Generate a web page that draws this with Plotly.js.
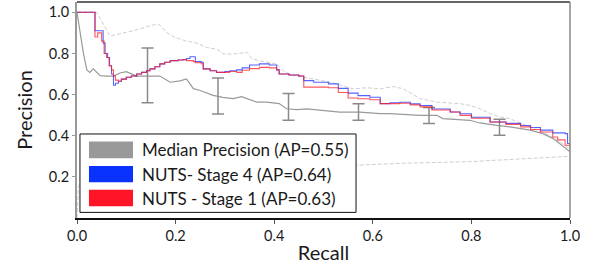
<!DOCTYPE html>
<html>
<head>
<meta charset="utf-8">
<script src="https://cdn.plot.ly/plotly-3.0.1.min.js"></script>
<style>html,body{margin:0;padding:0;background:#fff;}#chart{width:594px;height:267px;}</style>
</head>
<body>
<div id="chart"></div>
<script>
// Median precision (solid gray)
const medX = [0, 0.006, 0.013, 0.02, 0.026, 0.033, 0.04, 0.047, 0.06, 0.074, 0.087, 0.10, 0.121, 0.134, 0.148, 0.168, 0.189, 0.209, 0.222, 0.236, 0.25, 0.276, 0.296, 0.317, 0.334, 0.345, 0.365, 0.385, 0.41, 0.425, 0.446, 0.466, 0.493, 0.533, 0.574, 0.615, 0.635, 0.696, 0.73, 0.742, 0.797, 0.817, 0.852, 0.878, 0.919, 0.945, 0.966, 0.986, 1.0];
const medY = [1.0, 0.90, 0.80, 0.72, 0.708, 0.725, 0.71, 0.692, 0.69, 0.69, 0.705, 0.711, 0.69, 0.69, 0.69, 0.69, 0.66, 0.667, 0.676, 0.629, 0.62, 0.596, 0.586, 0.58, 0.59, 0.58, 0.563, 0.563, 0.556, 0.531, 0.527, 0.53, 0.523, 0.515, 0.515, 0.507, 0.507, 0.499, 0.499, 0.483, 0.475, 0.462, 0.45, 0.443, 0.427, 0.41, 0.386, 0.346, 0.322];

// Upper band (dashed light gray)
const upX = [0, 0.04, 0.067, 0.114, 0.155, 0.168, 0.182, 0.2, 0.222, 0.24, 0.263, 0.284, 0.297, 0.317, 0.345, 0.355, 0.385, 0.405, 0.418, 0.438, 0.479, 0.52, 0.56, 0.588, 0.615, 0.642, 0.662, 0.696, 0.73, 0.777, 0.797, 0.817, 0.838, 0.858, 0.878, 0.919, 0.959, 0.994, 1.0];
const upY = [1.0, 1.0, 0.885, 0.91, 0.939, 0.939, 0.90, 0.877, 0.86, 0.853, 0.829, 0.82, 0.797, 0.797, 0.805, 0.773, 0.757, 0.749, 0.716, 0.692, 0.676, 0.656, 0.628, 0.633, 0.628, 0.639, 0.628, 0.58, 0.563, 0.556, 0.547, 0.531, 0.507, 0.491, 0.483, 0.443, 0.402, 0.346, 0.33];

// Lower band (dashed light gray)
const loX = [0, 0.003, 0.01, 0.05, 0.15, 0.3, 0.45, 0.568, 0.662, 0.797, 1.0];
const loY = [0.0, 0.15, 0.19, 0.2, 0.21, 0.225, 0.24, 0.257, 0.266, 0.274, 0.30];

// NUTS - Stage 4 (blue, stepped)
const s4X = [0, 0.0365, 0.053, 0.057, 0.062, 0.066, 0.070, 0.074, 0.078, 0.084, 0.09, 0.10, 0.11, 0.121, 0.131, 0.141, 0.148, 0.158, 0.168, 0.178, 0.189, 0.205, 0.215, 0.222, 0.229, 0.24, 0.252, 0.256, 0.262, 0.27, 0.283, 0.30, 0.31, 0.324, 0.335, 0.35, 0.37, 0.39, 0.405, 0.41, 0.43, 0.45, 0.46, 0.48, 0.51, 0.53, 0.55, 0.57, 0.594, 0.615, 0.635, 0.655, 0.676, 0.696, 0.72, 0.757, 0.777, 0.80, 0.838, 0.87, 0.90, 0.92, 0.94, 0.965, 0.99, 0.995, 1.0];
const s4Y = [1.0, 0.91, 0.85, 0.80, 0.78, 0.74, 0.70, 0.645, 0.655, 0.665, 0.675, 0.684, 0.69, 0.70, 0.708, 0.716, 0.725, 0.735, 0.749, 0.757, 0.765, 0.768, 0.77, 0.775, 0.784, 0.76, 0.757, 0.725, 0.725, 0.716, 0.708, 0.712, 0.716, 0.72, 0.73, 0.744, 0.749, 0.744, 0.72, 0.70, 0.695, 0.69, 0.668, 0.66, 0.652, 0.63, 0.607, 0.595, 0.587, 0.556, 0.56, 0.563, 0.555, 0.547, 0.53, 0.515, 0.507, 0.49, 0.467, 0.46, 0.45, 0.44, 0.427, 0.414, 0.41, 0.362, 0.354];

// NUTS - Stage 1 (red, stepped)
const s1X = [0, 0.0365, 0.042, 0.05, 0.055, 0.060, 0.065, 0.07, 0.074, 0.078, 0.084, 0.09, 0.10, 0.11, 0.121, 0.131, 0.141, 0.148, 0.158, 0.168, 0.178, 0.189, 0.205, 0.215, 0.222, 0.236, 0.24, 0.252, 0.256, 0.262, 0.27, 0.283, 0.30, 0.31, 0.324, 0.335, 0.35, 0.37, 0.39, 0.405, 0.41, 0.43, 0.45, 0.46, 0.48, 0.51, 0.53, 0.55, 0.57, 0.594, 0.615, 0.635, 0.655, 0.676, 0.696, 0.72, 0.757, 0.777, 0.80, 0.838, 0.87, 0.90, 0.92, 0.94, 0.965, 0.975, 0.99, 1.0];
const s1Y = [1.0, 0.88, 0.90, 0.86, 0.80, 0.78, 0.74, 0.72, 0.69, 0.67, 0.665, 0.675, 0.684, 0.69, 0.70, 0.708, 0.716, 0.725, 0.735, 0.749, 0.757, 0.765, 0.768, 0.77, 0.765, 0.76, 0.755, 0.75, 0.725, 0.725, 0.716, 0.708, 0.708, 0.712, 0.708, 0.718, 0.726, 0.732, 0.73, 0.72, 0.70, 0.695, 0.69, 0.636, 0.636, 0.633, 0.61, 0.583, 0.58, 0.575, 0.556, 0.556, 0.558, 0.55, 0.54, 0.525, 0.515, 0.499, 0.485, 0.467, 0.455, 0.443, 0.43, 0.418, 0.394, 0.38, 0.354, 0.34];

// Error bars on the median
const errX = [0.143, 0.286, 0.429, 0.571, 0.714, 0.857];
const errY = [0.693, 0.593, 0.54, 0.515, 0.498, 0.441];
const errSize = [0.133, 0.088, 0.065, 0.04, 0.039, 0.039];

// Legend
const legendLabels = ["Median Precision (AP=0.55)", "NUTS- Stage 4 (AP=0.64)", "NUTS - Stage 1 (AP=0.63)"];
const legendColors = ["#999999", "#0a32ff", "#ff1428"];

const FONT = "Lato, 'Open Sans', sans-serif";

const traces = [
  {x: loX, y: loY, mode: 'lines', line: {color: '#cfcfcf', width: 1, dash: '4px,2px'}, showlegend: false, hoverinfo: 'skip'},
  {x: upX, y: upY, mode: 'lines', line: {color: '#cfcfcf', width: 1, dash: '4px,2px'}, showlegend: false, hoverinfo: 'skip'},
  {x: medX, y: medY, mode: 'lines', line: {color: '#9a9a9a', width: 1.2}, showlegend: false},
  {x: errX, y: errY, mode: 'markers', marker: {size: 1, opacity: 0}, showlegend: false,
   error_y: {type: 'data', array: errSize, visible: true, color: '#8a8a8a', thickness: 1.5, width: 6}},
  {x: s4X, y: s4Y, mode: 'lines', line: {shape: 'hv', color: 'rgba(20,40,255,0.72)', width: 1.1}, showlegend: false},
  {x: s1X, y: s1Y, mode: 'lines', line: {shape: 'hv', color: 'rgba(255,20,30,0.72)', width: 1.1}, showlegend: false}
];

// Legend box built from shapes + annotations (paper coords)
const shapes = [
  {type: 'rect', xref: 'paper', yref: 'paper', x0: 0.006, x1: 0.566, y0: 0.026, y1: 0.389,
   line: {color: '#111', width: 1}, fillcolor: '#ffffff', layer: 'above'},
  {type: 'line', xref: 'paper', yref: 'paper', x0: 0, x1: 1, y0: 1, y1: 1, line: {color: '#333', width: 1.5}, layer: 'above'},
  {type: 'line', xref: 'paper', yref: 'paper', x0: 1, x1: 1, y0: 0, y1: 1, line: {color: '#888', width: 1.5}, layer: 'above'}
];
const annotations = [];
const patchY = [[0.277, 0.354], [0.166, 0.241], [0.054, 0.131]];
legendLabels.forEach((lab, i) => {
  shapes.push({type: 'rect', xref: 'paper', yref: 'paper', x0: 0.0243, x1: 0.1136,
    y0: patchY[i][0], y1: patchY[i][1], line: {width: 0}, fillcolor: legendColors[i], layer: 'above'});
  annotations.push({xref: 'paper', yref: 'paper', x: 0.127, y: (patchY[i][0] + patchY[i][1]) / 2,
    xanchor: 'left', yanchor: 'middle', showarrow: false, text: lab,
    font: {family: FONT, size: 17, color: '#1a1a1a'}});
});

const layout = {
  width: 594, height: 267,
  margin: {l: 77, r: 24, t: 2, b: 49},
  paper_bgcolor: '#fff', plot_bgcolor: '#fff',
  font: {family: FONT, color: '#1a1a1a'},
  showlegend: false,
  xaxis: {
    range: [0, 1], tickvals: [0, 0.2, 0.4, 0.6, 0.8, 1.0], ticktext: ['0.0', '0.2', '0.4', '0.6', '0.8', '1.0'],
    showgrid: false, zeroline: false, showline: true, linecolor: '#111', linewidth: 1.5,
    ticks: 'outside', ticklen: 4, tickcolor: '#555', tickfont: {size: 14.5, family: FONT},
    automargin: true,
    title: {text: 'Recall', font: {size: 20, family: FONT}, standoff: 3}
  },
  yaxis: {
    range: [0, 1.05], tickvals: [0.2, 0.4, 0.6, 0.8, 1.0], ticktext: ['0.2', '0.4', '0.6', '0.8', '1.0'],
    showgrid: false, zeroline: false, showline: true, linecolor: '#999', linewidth: 2,
    ticks: 'outside', ticklen: 3, tickcolor: '#999', tickfont: {size: 14.5, family: FONT},
    automargin: true,
    title: {text: 'Precision', font: {size: 20, family: FONT}, standoff: 11}
  },
  shapes: shapes,
  annotations: annotations
};

Plotly.newPlot('chart', traces, layout, {staticPlot: true, displayModeBar: false});
</script>
</body>
</html>
